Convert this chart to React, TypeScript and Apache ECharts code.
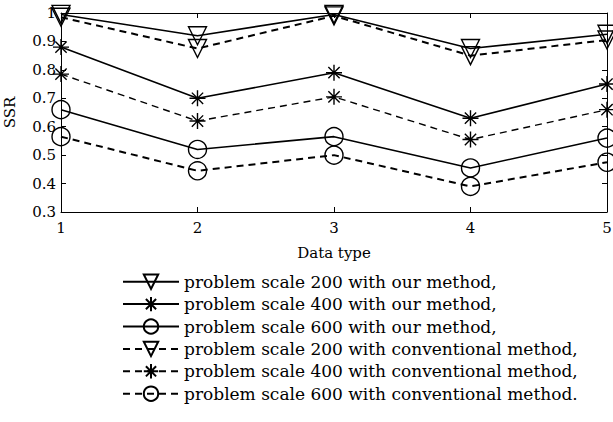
import React, { useEffect, useRef } from "react";
import * as echarts from "echarts";

const dataTypes = [1, 2, 3, 4, 5];
const ours200 = [0.995, 0.92, 0.995, 0.875, 0.925];
const ours400 = [0.88, 0.70, 0.79, 0.63, 0.75];
const ours600 = [0.66, 0.52, 0.565, 0.455, 0.56];
const conv200 = [0.985, 0.875, 0.99, 0.85, 0.905];
const conv400 = [0.785, 0.62, 0.705, 0.555, 0.66];
const conv600 = [0.565, 0.445, 0.50, 0.39, 0.475];
const seriesNames = [
  "problem scale 200 with our method,",
  "problem scale 400 with our method,",
  "problem scale 600 with our method,",
  "problem scale 200 with conventional method,",
  "problem scale 400 with conventional method,",
  "problem scale 600 with conventional method.",
];

const FONT = "DejaVu Serif";
const STAR = "path://M0,-10L0,10M-7.07,-7.07L7.07,7.07M-7.07,7.07L7.07,-7.07M-10,0L10,0";

export default function App() {
  const ref = useRef<HTMLDivElement>(null);
  useEffect(() => {
    document.body.style.margin = "0";
    const chart = echarts.init(ref.current!, null, { renderer: "svg" });
    const all = [ours200, ours400, ours600, conv200, conv400, conv600];
    const mk = (i: number) => {
      const kind = i % 3;
      const dashed = i >= 3;
      const symbol = kind === 0 ? "triangle" : kind === 1 ? STAR : "circle";
      const size = kind === 0 ? 18 : kind === 1 ? 16 : 18;
      return {
        name: seriesNames[i],
        type: "line",
        data: dataTypes.map((x, j) => [x, all[i][j]]),
        symbol,
        symbolSize: size,
        symbolRotate: kind === 0 ? 180 : 0,
        color: "#000",
        itemStyle: { color: "none", borderColor: "#000", borderWidth: 1.4 },
        lineStyle: {
          color: "#000",
          width: dashed ? (kind === 1 ? 1.4 : 2) : 1.6,
          type: dashed ? [7, 5] : "solid",
        },
        z: 3,
      };
    };
    chart.setOption({
      animation: false,
      backgroundColor: "#fff",
      grid: { left: 61, right: 6, top: 13, bottom: 210, outerBoundsMode: "none" },
      xAxis: [
        {
          type: "value",
          min: 1,
          max: 5,
          interval: 1,
          name: "Data type",
          nameLocation: "middle",
          nameGap: 33,
          nameTextStyle: { fontFamily: FONT, fontSize: 15, color: "#000" },
          axisLine: { lineStyle: { color: "#000", width: 1 } },
          axisTick: { inside: true, length: 5, lineStyle: { color: "#000" } },
          axisLabel: { fontFamily: FONT, fontSize: 15, color: "#000", margin: 8 },
          splitLine: { show: false },
        },
        {
          type: "value",
          position: "top",
          min: 1,
          max: 5,
          interval: 1,
          axisLine: { lineStyle: { color: "#000", width: 1 } },
          axisTick: { inside: true, length: 5, lineStyle: { color: "#000" } },
          axisLabel: { show: false },
          splitLine: { show: false },
        },
      ],
      yAxis: [
        {
          type: "value",
          min: 0.3,
          max: 1,
          interval: 0.1,
          name: "SSR",
          nameLocation: "middle",
          nameGap: 44,
          nameTextStyle: { fontFamily: FONT, fontSize: 15, color: "#000" },
          axisLine: { show: true, lineStyle: { color: "#000", width: 1 } },
          axisTick: { show: true, inside: true, length: 5, lineStyle: { color: "#000" } },
          axisLabel: {
            fontFamily: FONT,
            fontSize: 15,
            color: "#000",
            margin: 5,
            formatter: (v: number) => String(Number(v.toFixed(1))),
          },
          splitLine: { show: false },
        },
        {
          type: "value",
          position: "right",
          min: 0.3,
          max: 1,
          interval: 0.1,
          axisLine: { show: true, lineStyle: { color: "#000", width: 1 } },
          axisTick: { show: true, inside: true, length: 5, lineStyle: { color: "#000" } },
          axisLabel: { show: false },
          splitLine: { show: false },
        },
      ],
      legend: {
        orient: "vertical",
        left: 122,
        top: 272,
        padding: 0,
        itemWidth: 56,
        itemHeight: 18,
        itemGap: 3,
        textStyle: { fontFamily: FONT, fontSize: 17, color: "#000" },
        data: seriesNames,
      },
      series: seriesNames.map((_, i) => mk(i)),
    });
    return () => chart.dispose();
  }, []);
  return <div ref={ref} style={{ width: 613, height: 422 }} />;
}
